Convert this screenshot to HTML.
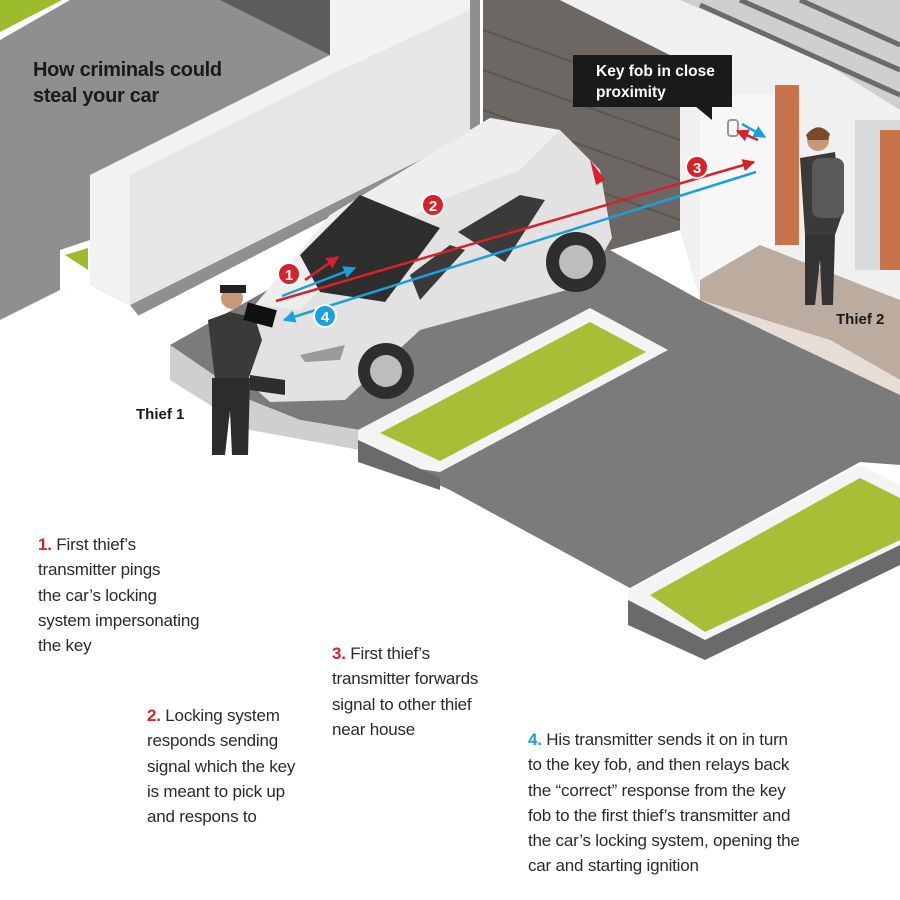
<!DOCTYPE html>
<html><head><meta charset="utf-8"><style>
body{margin:0;background:#fff}
.w{position:relative;width:900px;height:900px;overflow:hidden;background:#fff;font-family:"Liberation Sans",sans-serif}
.t{position:absolute;font-size:17px;line-height:25.3px;color:#2a2a2a;white-space:nowrap;letter-spacing:-0.2px}
.t b{font-weight:bold}
.r{color:#d7222a}.bl{color:#1aa0dc}
.h{position:absolute;left:33px;top:57px;font-size:20px;line-height:26px;font-weight:bold;color:#1a1a1a;letter-spacing:-0.3px}
.lab{position:absolute;font-size:15px;font-weight:bold;color:#1a1a1a}
</style></head><body><div class="w">
<svg width="900" height="900" style="position:absolute;left:0;top:0">
<defs>
<marker id="ar" viewBox="0 0 10 10" refX="9" refY="5" markerWidth="5" markerHeight="5" orient="auto"><path d="M0,0L10,5L0,10z" fill="#d7222a"/></marker>
<marker id="ab" viewBox="0 0 10 10" refX="9" refY="5" markerWidth="5" markerHeight="5" orient="auto"><path d="M0,0L10,5L0,10z" fill="#1aa0dc"/></marker>
</defs>
<polygon points="0,0 480,0 480,140 130,320 60,290 0,320" fill="#8f8f8f"/>
<polygon points="0,0 70,0 0,40" fill="#fff"/>
<polygon points="0,0 62,0 0,32" fill="#9cbc2c"/>
<polygon points="220,0 330,0 330,55" fill="#5e5c5a"/>
<polygon points="90,175 330,55 330,0 470,0 470,135 130,305 90,285" fill="#f2f2f2"/>
<polygon points="130,175 330,75 470,10 470,135 130,305" fill="#e6e6e6"/>
<polygon points="60,250 90,240 90,285 130,305 150,330 60,290" fill="#fff"/>
<polygon points="65,255 88,248 88,270" fill="#9cbc2c"/>
<polygon points="483,0 560,0 680,60 680,230 610,250 483,205" fill="#6c6762"/>
<g stroke="#5a5652" stroke-width="2"><line x1="483" y1="30" x2="680" y2="100"/><line x1="483" y1="70" x2="680" y2="140"/><line x1="483" y1="110" x2="680" y2="180"/><line x1="483" y1="150" x2="680" y2="220"/></g>
<polygon points="560,0 900,0 900,300 700,300 680,230 680,60" fill="#f0f0f0"/>
<polygon points="680,0 900,0 900,110 820,60" fill="#cfcfcf"/>
<g stroke="#6e6a66" stroke-width="5"><line x1="700" y1="5" x2="900" y2="95"/><line x1="740" y1="0" x2="900" y2="70"/><line x1="800" y1="0" x2="900" y2="45"/></g>
<rect x="775" y="85" width="24" height="160" fill="#c7744a"/>
<rect x="855" y="120" width="45" height="150" fill="#d9dadb"/>
<rect x="880" y="130" width="20" height="140" fill="#c7744a"/>
<rect x="700" y="95" width="75" height="200" fill="#f7f7f7"/>
<polygon points="700,280 760,245 900,300 900,380 830,340 700,300" fill="#bcaca0"/>
<polygon points="700,300 830,340 900,380 900,395 700,315" fill="#e6ddd6"/>
<polygon points="250,400 170,345 480,170 610,250 700,300 900,395 900,465 860,462 630,588 450,490 360,450 360,430 300,420" fill="#7b7b7b"/>
<polygon points="170,345 250,400 300,420 360,430 360,450 250,430 170,380" fill="#cfcfcf"/>
<polygon points="358,430 590,308 668,350 440,472 358,460" fill="#f4f4f4"/>
<polygon points="358,440 440,478 440,490 358,462" fill="#6a6a6a"/>
<polygon points="380,433 590,322 646,352 440,461" fill="#a7bf36"/>
<polygon points="628,590 860,465 900,485 900,565 705,655 628,620" fill="#f4f4f4"/>
<polygon points="628,600 705,640 900,545 900,565 705,660 628,625" fill="#6a6a6a"/>
<polygon points="650,595 860,478 900,498 900,540 705,632" fill="#a7bf36"/>
<polygon points="240,375 255,305 330,215 490,118 560,130 600,170 612,238 585,285 420,330 345,400 270,402" fill="#e2e2e2"/>
<polygon points="255,305 330,215 490,118 560,130 520,170 440,200 360,250 300,310" fill="#eeeeee"/>
<polygon points="300,255 360,195 440,228 385,302 320,292" fill="#2e2e2e"/>
<polygon points="458,232 520,195 545,200 505,262" fill="#3a3a3a"/>
<polygon points="410,275 450,245 465,250 420,300" fill="#3a3a3a"/>
<polygon points="590,160 605,180 596,185" fill="#d7222a"/>
<circle cx="576" cy="262" r="30" fill="#2e2e2e"/><circle cx="576" cy="262" r="17" fill="#bdbdbd"/>
<circle cx="386" cy="371" r="28" fill="#2e2e2e"/><circle cx="386" cy="371" r="16" fill="#bdbdbd"/>
<polygon points="250,375 285,380 285,395 250,390" fill="#2e2e2e"/>
<polygon points="300,355 345,345 340,360 305,362" fill="#9a9a9a"/>
<circle cx="232" cy="298" r="11" fill="#c89878"/>
<rect x="220" y="285" width="26" height="8" fill="#222"/>
<polygon points="208,320 230,312 255,318 262,340 248,380 215,380" fill="#3a3a3a"/>
<polygon points="212,378 250,378 248,455 232,455 230,410 225,455 212,455" fill="#2c2c2c"/>
<rect x="245" y="306" width="30" height="18" fill="#111" transform="rotate(15 260 315)"/>
<circle cx="818" cy="140" r="11" fill="#c89878"/>
<path d="M806,135 Q818,120 830,134 L828,140 L808,140Z" fill="#7a4a2a"/>
<polygon points="800,158 835,152 842,215 835,235 805,235" fill="#3a3a3a"/>
<rect x="812" y="158" width="32" height="60" rx="8" fill="#595959"/>
<polygon points="805,235 835,235 833,305 822,305 820,260 815,305 805,305" fill="#333"/>
<rect x="728" y="120" width="10" height="16" rx="3" fill="none" stroke="#999" stroke-width="2"/>
<g stroke-width="2.5" fill="none">
<line x1="276" y1="301" x2="754" y2="162" stroke="#d7222a" marker-end="url(#ar)"/>
<line x1="756" y1="172" x2="284" y2="320" stroke="#1aa0dc" marker-end="url(#ab)"/>
<line x1="305" y1="280" x2="338" y2="257" stroke="#d7222a" marker-end="url(#ar)"/>
<line x1="282" y1="296" x2="355" y2="268" stroke="#1aa0dc" marker-end="url(#ab)"/>
<line x1="758" y1="140" x2="737" y2="131" stroke="#d7222a" marker-end="url(#ar)"/>
<line x1="742" y1="124" x2="765" y2="137" stroke="#1aa0dc" marker-end="url(#ab)"/>
</g>
<g font-family="Liberation Sans,sans-serif" font-weight="bold" font-size="15" fill="#fff" text-anchor="middle">
<circle cx="289" cy="274" r="11" fill="#d7222a" stroke="#fff" stroke-width="2"/><text x="289" y="280">1</text>
<circle cx="433" cy="205" r="11" fill="#d7222a" stroke="#fff" stroke-width="2"/><text x="433" y="211">2</text>
<circle cx="697" cy="167" r="11" fill="#d7222a" stroke="#fff" stroke-width="2"/><text x="697" y="173">3</text>
<circle cx="325" cy="316" r="11" fill="#1aa0dc" stroke="#fff" stroke-width="2"/><text x="325" y="322">4</text>
</g>
<rect x="573" y="55" width="159" height="52" fill="#1a1a1a"/>
<polygon points="695,106 712,106 712,120" fill="#1a1a1a"/>
</svg>
<div class="h">How criminals could<br>steal your car</div>
<div style="position:absolute;left:596px;top:61px;font-size:15.5px;line-height:21px;font-weight:bold;color:#fff">Key fob in close<br>proximity</div>
<div class="lab" style="left:136px;top:406px">Thief 1</div>
<div class="lab" style="left:836px;top:311px">Thief 2</div>
<div class="t" style="left:38px;top:532px"><b class="r">1.</b> First thief’s<br>transmitter pings<br>the car’s locking<br>system impersonating<br>the key</div>
<div class="t" style="left:147px;top:703px"><b class="r">2.</b> Locking system<br>responds sending<br>signal which the key<br>is meant to pick up<br>and respons to</div>
<div class="t" style="left:332px;top:641px"><b class="r">3.</b> First thief’s<br>transmitter forwards<br>signal to other thief<br>near house</div>
<div class="t" style="left:528px;top:727px"><b class="bl">4.</b> His transmitter sends it on in turn<br>to the key fob, and then relays back<br>the “correct” response from the key<br>fob to the first thief’s transmitter and<br>the car’s locking system, opening the<br>car and starting ignition</div>
</div></body></html>
